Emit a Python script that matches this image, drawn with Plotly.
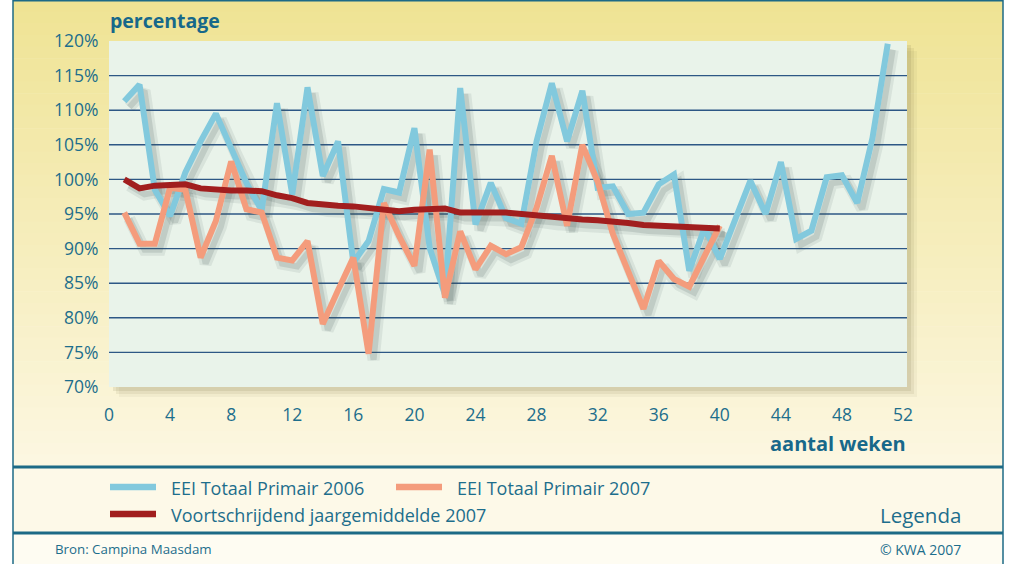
import plotly.graph_objects as go

# ---------------- data ----------------
weeks_2006 = list(range(1, 52))
eei_2006 = [111.3, 113.7, 98.5, 94.7, 101.0, 105.5, 109.5, 104.5, 99.5, 95.5,
            111.0, 97.8, 113.3, 100.5, 105.5, 88.0, 91.1, 98.6, 98.1, 107.4,
            90.1, 83.4, 113.2, 93.5, 99.5, 94.4, 93.6, 105.5, 113.9, 105.5,
            112.8, 98.8, 99.0, 95.0, 95.2, 99.3, 100.7, 86.8, 93.0, 88.5,
            94.1, 99.8, 95.0, 102.5, 91.4, 92.6, 100.3, 100.6, 96.6, 106.0,
            119.6]

weeks_2007 = list(range(1, 41))
eei_2007 = [95.2, 90.7, 90.7, 98.8, 98.5, 88.7, 94.0, 102.6, 95.7, 95.2,
            88.7, 88.3, 91.1, 79.1, 84.0, 88.7, 74.8, 96.6, 91.8, 87.5,
            104.3, 82.9, 92.5, 87.0, 90.4, 89.2, 90.2, 95.9, 103.4, 93.3,
            105.0, 99.7, 92.1, 86.8, 81.3, 88.2, 85.6, 84.5, 89.0, 93.3]

running_avg_2007 = [100.0, 98.7, 99.1, 99.3, 99.3, 98.7, 98.5, 98.4, 98.4, 98.3,
                    97.7, 97.3, 96.6, 96.3, 96.2, 96.1, 95.9, 95.6, 95.4, 95.6,
                    95.8, 95.8, 95.2, 95.1, 95.2, 95.2, 95.0, 94.7, 94.4, 94.3,
                    94.2, 94.1, 94.0, 93.7, 93.4, 93.3, 93.3, 93.2, 92.9, 92.9]

x_ticks = list(range(0, 53, 4))
y_ticks = list(range(70, 121, 5))
grid_vals = list(range(75, 116, 5))

names = ["EEI Totaal Primair 2006", "EEI Totaal Primair 2007",
         "Voortschrijdend jaargemiddelde 2007"]

# ---------------- style ----------------
W, H = 1009, 564
L, R, T, B = 109, 907, 41, 387
C_BLUE = "#82C9DD"
C_ORANGE = "#F49C7C"
C_DARKRED = "#A11E1E"
C_TEXT = "#1D6E8C"
C_FRAME = "#1C6A86"
C_GRID = "#2D5785"
FONT = "Open Sans"

X_RANGE = [0, 52.26]
Y_RANGE = [70, 120]


def px(xp):
    return (xp - L) / (R - L)


def py(yp):
    return (B - yp) / (B - T)


# shadow offset in data units (about 5 px right, 6 px down)
dx = 5 * (X_RANGE[1] - X_RANGE[0]) / (R - L)
dy = 6 * (Y_RANGE[1] - Y_RANGE[0]) / (B - T)

fig = go.Figure()

series = [
    (weeks_2006, eei_2006, C_BLUE, 6),
    (weeks_2007, eei_2007, C_ORANGE, 6),
    (weeks_2007, running_avg_2007, C_DARKRED, 6),
]

# drop shadows
for xs, ys, col, w in series:
    fig.add_trace(go.Scatter(
        x=[v + dx for v in xs], y=[v - dy for v in ys], mode="lines",
        line=dict(color="rgba(70,90,90,0.10)", width=w + 6),
        hoverinfo="skip", showlegend=False))
    fig.add_trace(go.Scatter(
        x=[v + dx for v in xs], y=[v - dy for v in ys], mode="lines",
        line=dict(color="rgba(70,90,90,0.16)", width=w),
        hoverinfo="skip", showlegend=False))

for (xs, ys, col, w), nm in zip(series, names):
    fig.add_trace(go.Scatter(
        x=xs, y=ys, mode="lines", name=nm,
        line=dict(color=col, width=w), showlegend=False))

shapes = []
# background panel gradient (top yellow -> cream)
top_c = (239, 227, 148)
bot_c = (252, 247, 225)
n = 40
y0p, y1p = 0, 466
for i in range(n):
    a = i / (n - 1)
    c = tuple(round(top_c[k] + (bot_c[k] - top_c[k]) * a) for k in range(3))
    ya = y0p + (y1p - y0p) * i / n
    yb = y0p + (y1p - y0p) * (i + 1) / n + 0.6
    shapes.append(dict(type="rect", xref="paper", yref="paper", layer="below",
                       x0=px(13), x1=px(1003), y0=py(yb), y1=py(ya),
                       line=dict(width=0), fillcolor="rgb(%d,%d,%d)" % c))
# legend and source sections
shapes.append(dict(type="rect", xref="paper", yref="paper", layer="below",
                   x0=px(13), x1=px(1003), y0=py(533), y1=py(466),
                   line=dict(width=0), fillcolor="#FDF9E8"))
shapes.append(dict(type="rect", xref="paper", yref="paper", layer="below",
                   x0=px(13), x1=px(1003), y0=py(564), y1=py(533),
                   line=dict(width=0), fillcolor="#FEFCF2"))
# plot area shadow
for off, op in [(10, 0.06), (7, 0.09), (4, 0.12)]:
    shapes.append(dict(type="rect", xref="paper", yref="paper", layer="below",
                       x0=px(L + off), x1=px(R + off), y0=py(B + off), y1=py(T + off),
                       line=dict(width=0), fillcolor="rgba(110,100,60,%.2f)" % op))
# plot area
shapes.append(dict(type="rect", xref="paper", yref="paper", layer="below",
                   x0=0, x1=1, y0=0, y1=1,
                   line=dict(width=0), fillcolor="#E9F3EA"))
# gridlines
for g in grid_vals:
    shapes.append(dict(type="line", xref="paper", yref="y", layer="below",
                       x0=0, x1=1, y0=g, y1=g,
                       line=dict(color=C_GRID, width=1.4)))
# frame lines
for yy in (467, 533):
    shapes.append(dict(type="line", xref="paper", yref="paper", layer="above",
                       x0=px(13), x1=px(1003), y0=py(yy), y1=py(yy),
                       line=dict(color=C_FRAME, width=3)))
shapes.append(dict(type="line", xref="paper", yref="paper", layer="above",
                   x0=px(13), x1=px(13), y0=py(564), y1=py(0),
                   line=dict(color=C_FRAME, width=1.5)))
shapes.append(dict(type="line", xref="paper", yref="paper", layer="above",
                   x0=px(1003), x1=px(1003), y0=py(564), y1=py(0),
                   line=dict(color=C_FRAME, width=1.5)))
shapes.append(dict(type="line", xref="paper", yref="paper", layer="above",
                   x0=px(13), x1=px(1003), y0=py(0.7), y1=py(0.7),
                   line=dict(color=C_FRAME, width=1.5)))

# legend samples
legend_items = [
    (names[0], C_BLUE, 110, 487),
    (names[1], C_ORANGE, 396, 487),
    (names[2], C_DARKRED, 110, 514),
]
annotations = []
for nm, col, lx, ly in legend_items:
    shapes.append(dict(type="line", xref="paper", yref="paper", layer="above",
                       x0=px(lx), x1=px(lx + 46), y0=py(ly), y1=py(ly),
                       line=dict(color=col, width=6.5)))
    annotations.append(dict(text=nm, xref="paper", yref="paper",
                            x=px(lx + 59), y=py(ly + 1), xanchor="left", yanchor="middle",
                            showarrow=False, font=dict(family=FONT, size=18, color=C_TEXT)))

annotations += [
    dict(text="<b>percentage</b>", xref="paper", yref="paper", x=px(108), y=py(21),
         xanchor="left", yanchor="middle", showarrow=False,
         font=dict(family=FONT, size=19.5, color="#17688A")),
    dict(text="<b>aantal weken</b>", xref="paper", yref="paper", x=px(908), y=py(443),
         xanchor="right", yanchor="middle", showarrow=False,
         font=dict(family=FONT, size=20, color="#17688A")),
    dict(text="Legenda", xref="paper", yref="paper", x=px(963), y=py(515),
         xanchor="right", yanchor="middle", showarrow=False,
         font=dict(family=FONT, size=20.5, color=C_TEXT)),
    dict(text="Bron: Campina Maasdam", xref="paper", yref="paper", x=px(53), y=py(549),
         xanchor="left", yanchor="middle", showarrow=False,
         font=dict(family=FONT, size=13.3, color=C_TEXT)),
    dict(text="© KWA 2007", xref="paper", yref="paper", x=px(963), y=py(549),
         xanchor="right", yanchor="middle", showarrow=False,
         font=dict(family=FONT, size=14, color=C_TEXT)),
]

fig.update_layout(
    width=W, height=H,
    margin=dict(l=L, r=W - R, t=T, b=H - B, pad=0),
    paper_bgcolor="#FFFFFF",
    plot_bgcolor="rgba(0,0,0,0)",
    showlegend=False,
    shapes=shapes,
    annotations=annotations,
    xaxis=dict(range=X_RANGE, tickvals=x_ticks, ticktext=[str(v) for v in x_ticks],
               showgrid=False, zeroline=False, showline=False,
               ticks="outside", ticklen=12, tickcolor="rgba(0,0,0,0)",
               tickfont=dict(family=FONT, size=17.5, color=C_TEXT)),
    yaxis=dict(range=Y_RANGE, tickvals=y_ticks, ticktext=["%d%%" % v for v in y_ticks],
               showgrid=False, zeroline=False, showline=False,
               ticks="outside", ticklen=6, tickcolor="rgba(0,0,0,0)",
               tickfont=dict(family=FONT, size=17.5, color=C_TEXT)),
)

fig.write_html(
    "out.html",
    config={"displayModeBar": False},
    post_script="document.body.style.margin='0px';document.body.style.overflow='hidden';",
)
